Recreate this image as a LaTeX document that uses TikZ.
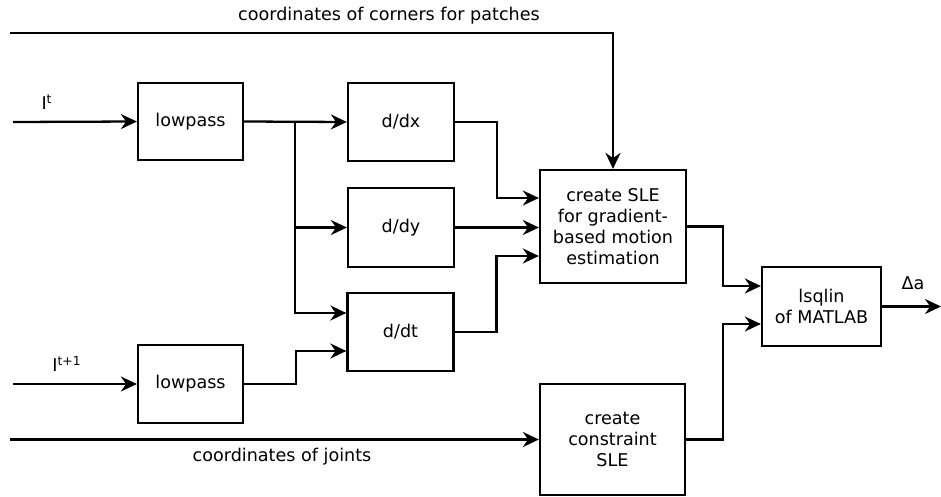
\documentclass[tikz,border=0pt]{standalone}
\usepackage{fontspec}
\setmainfont{DejaVu Sans}
\usepackage{tikz}
\usetikzlibrary{positioning}
\usetikzlibrary{shapes,arrows,calc,arrows.meta}

\begin{document}
\begin{tikzpicture}[x=0.02cm, y=-0.02cm, line width=1.3pt,
    font=\fontsize{10}{12}\selectfont,
    block/.style={draw, rectangle, line width=1.3pt, align=center, inner sep=2pt},
    arr/.style={-{Stealth[length=3.2mm,width=3mm]}}]
    \useasboundingbox (0,0) rectangle (941,497);
    % Nodes
    \node [block, minimum width=2.1cm, minimum height=1.54cm] (lowpass1) at (190.5,121.5) {lowpass};
    \node [block, minimum width=2.1cm, minimum height=1.56cm] (lowpass2) at (190.5,384) {lowpass};
    \node [block, minimum width=2.12cm, minimum height=1.56cm] (ddx) at (401,122) {d/dx};
    \node [block, minimum width=2.12cm, minimum height=1.58cm] (ddy) at (401,227.5) {d/dy};
    \node [block, minimum width=2.12cm, minimum height=1.56cm] (ddt) at (400.5,332) {d/dt};
    \node [block, minimum width=2.92cm, minimum height=2.26cm] (sle) at (613,226.5) {create SLE\\for gradient-\\based motion\\estimation};
    \node [block, minimum width=2.9cm, minimum height=2.22cm] (constr) at (612.5,439.5) {create\\constraint\\SLE};
    \node [block, minimum width=2.38cm, minimum height=1.58cm] (lsqlin) at (821.5,306.5) {lsqlin\\of MATLAB};

    \coordinate (inCorners) at (10,33);
    \coordinate (inIt) at (13,122);
    \coordinate (inItt) at (13,384);
    \coordinate (inJoints) at (10,439.5);
    \coordinate (split) at (295,122);
    \coordinate (out) at (941,306.5);

    % Labels
    \node (lblCorners) at (389,16) {coordinates of corners for patches};
    \node (lblIt) at (47,102) {I\textsuperscript{t}};
    \node (lblItt) at (67,364) {I\textsuperscript{t+1}};
    \node (lblJoints) at (282,457) {coordinates of joints};
    \node (lblDelta) at (913,283) {Δa};

    % Arrows
    \draw [arr] (inCorners) -| (sle.north);
    \draw [arr] (inIt) -- (lowpass1.west);
    \draw [arr] (inItt) -- (lowpass2.west);
    \draw [arr] (lowpass1.east) -- (ddx.west);
    \draw [arr] (split) |- (ddy.west);
    \draw [arr] (split) |- ([yshift=0.38cm]ddt.west);
    \draw [arr] (lowpass2.east) -- ++(52,0) |- ([yshift=-0.38cm]ddt.west);
    \draw [arr] (ddx.east) -- ++(42,0) |- ([yshift=0.57cm]sle.west);
    \draw [arr] (ddy.east) -- (ddy.east -| sle.west);
    \draw [arr] (ddt.east) -- ++(42,0) |- ([yshift=-0.59cm]sle.west);
    \draw [arr] (inJoints) -- (constr.west);
    \draw [arr] (sle.east) -- ++(36,0) |- ([yshift=0.41cm]lsqlin.west);
    \draw [arr] (constr.east) -- ++(37,0) |- ([yshift=-0.35cm]lsqlin.west);
    \draw [arr] (lsqlin.east) -- (out);
  \end{tikzpicture}
\end{document}
